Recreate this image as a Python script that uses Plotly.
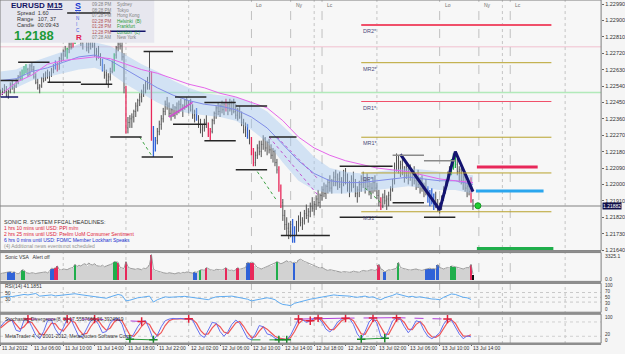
import plotly.graph_objects as go

# ---------------- DATA (EURUSD M15, 11 Jul 2012 02:00 -> 13 Jul 2012 14:15) ----------------
HIGH = [1.2252,1.2253,1.2255,1.2254,1.2252,1.2256,1.2257,1.2255,1.2258,1.2260,
        1.2262,1.2263,1.2265,1.2266,1.2264,1.2266,1.2267,1.2265,1.2261,1.2258,
        1.2255,1.2259,1.2261,1.2262,1.2263,1.2262,1.2264,1.2266,1.2268,1.2267,
        1.2270,1.2272,1.2274,1.2276,1.2275,1.2278,1.2280,1.2281,1.2283,1.2286,
        1.2285,1.2283,1.2282,1.2284,1.2281,1.2279,1.2280,1.2282,1.2278,1.2275,
        1.2276,1.2272,1.2269,1.2266,1.2263,1.2261,1.2264,1.2268,1.2272,1.2276,
        1.2280,1.2281,1.2279,1.2272,1.2254,1.2237,1.2238,1.2239,1.2241,1.2245,
        1.2247,1.2250,1.2252,1.2255,1.2257,1.2259,1.2273,1.2262,1.2232,1.2226,
        1.2231,1.2235,1.2238,1.2242,1.2246,1.2248,1.2245,1.2242,1.2244,1.2243,
        1.2245,1.2246,1.2247,1.2244,1.2247,1.2248,1.2246,1.2247,1.2244,1.2241,
        1.2242,1.2238,1.2236,1.2233,1.2236,1.2238,1.2234,1.2231,1.2236,1.2240,
        1.2243,1.2245,1.2244,1.2246,1.2245,1.2247,1.2245,1.2247,1.2246,1.2247,
        1.2244,1.2242,1.2243,1.2240,1.2236,1.2234,1.2233,1.2230,1.2226,1.2220,
        1.2218,1.2222,1.2224,1.2224,1.2227,1.2226,1.2224,1.2225,1.2222,1.2220,
        1.2219,1.2214,1.2210,1.2200,1.2192,1.2186,1.2182,1.2179,1.2180,1.2181,
        1.2177,1.2180,1.2183,1.2185,1.2182,1.2186,1.2189,1.2187,1.2190,1.2193,
        1.2191,1.2194,1.2197,1.2195,1.2199,1.2201,1.2200,1.2203,1.2205,1.2203,
        1.2207,1.2208,1.2206,1.2207,1.2204,1.2208,1.2209,1.2206,1.2202,1.2205,
        1.2207,1.2203,1.2199,1.2202,1.2205,1.2207,1.2204,1.2206,1.2203,1.2201,
        1.2204,1.2205,1.2201,1.2197,1.2193,1.2195,1.2197,1.2194,1.2196,1.2199,
        1.2203,1.2212,1.2217,1.2216,1.2213,1.2214,1.2210,1.2212,1.2209,1.2211,
        1.2208,1.2210,1.2206,1.2208,1.2204,1.2205,1.2201,1.2203,1.2199,1.2197,
        1.2198,1.2195,1.2196,1.2192,1.2190,1.2194,1.2199,1.2203,1.2207,1.2210,
        1.2214,1.2217,1.2218,1.2214,1.2210,1.2209,1.2206,1.2205,1.2201,1.2202,
        1.2204,1.2192]
LOW = [1.2248,1.2249,1.2250,1.2248,1.2247,1.2250,1.2252,1.2250,1.2253,1.2255,
       1.2257,1.2257,1.2260,1.2261,1.2259,1.2260,1.2262,1.2258,1.2255,1.2252,
       1.2250,1.2253,1.2256,1.2257,1.2258,1.2256,1.2259,1.2261,1.2263,1.2262,
       1.2263,1.2267,1.2268,1.2270,1.2269,1.2272,1.2274,1.2275,1.2277,1.2280,
       1.2279,1.2276,1.2274,1.2278,1.2273,1.2272,1.2274,1.2275,1.2270,1.2268,
       1.2269,1.2265,1.2262,1.2258,1.2255,1.2253,1.2257,1.2261,1.2262,1.2269,
       1.2273,1.2274,1.2268,1.2250,1.2228,1.2228,1.2231,1.2231,1.2234,1.2237,
       1.2240,1.2243,1.2245,1.2248,1.2250,1.2252,1.2252,1.2224,1.2215,1.2218,
       1.2222,1.2227,1.2230,1.2234,1.2238,1.2241,1.2237,1.2235,1.2237,1.2236,
       1.2238,1.2239,1.2240,1.2237,1.2241,1.2242,1.2239,1.2240,1.2236,1.2234,
       1.2235,1.2231,1.2228,1.2226,1.2229,1.2231,1.2226,1.2224,1.2228,1.2233,
       1.2236,1.2238,1.2237,1.2239,1.2238,1.2240,1.2238,1.2240,1.2238,1.2239,
       1.2236,1.2235,1.2236,1.2232,1.2228,1.2226,1.2225,1.2222,1.2216,1.2210,
       1.2210,1.2214,1.2216,1.2215,1.2219,1.2218,1.2216,1.2217,1.2214,1.2212,
       1.2210,1.2206,1.2196,1.2187,1.2180,1.2175,1.2172,1.2170,1.2171,1.2168,
       1.2168,1.2172,1.2174,1.2177,1.2175,1.2178,1.2181,1.2179,1.2182,1.2185,
       1.2183,1.2186,1.2188,1.2187,1.2191,1.2193,1.2192,1.2195,1.2196,1.2195,
       1.2199,1.2199,1.2197,1.2198,1.2195,1.2199,1.2200,1.2196,1.2193,1.2196,
       1.2198,1.2193,1.2190,1.2193,1.2196,1.2198,1.2195,1.2197,1.2194,1.2192,
       1.2195,1.2196,1.2192,1.2188,1.2186,1.2187,1.2189,1.2186,1.2188,1.2191,
       1.2196,1.2200,1.2207,1.2206,1.2204,1.2205,1.2201,1.2203,1.2200,1.2202,
       1.2199,1.2200,1.2197,1.2198,1.2195,1.2196,1.2193,1.2194,1.2190,1.2188,
       1.2189,1.2186,1.2187,1.2185,1.2184,1.2186,1.2191,1.2195,1.2199,1.2202,
       1.2205,1.2208,1.2209,1.2205,1.2201,1.2200,1.2197,1.2196,1.2193,1.2194,
       1.2190,1.2186]
CLOSE = [1.2250,1.2252,1.2251,1.2249,1.2251,1.2255,1.2253,1.2254,1.2257,1.2259,
         1.2258,1.2262,1.2264,1.2263,1.2260,1.2265,1.2263,1.2259,1.2256,1.2253,
         1.2254,1.2258,1.2257,1.2261,1.2259,1.2260,1.2263,1.2265,1.2264,1.2263,
         1.2269,1.2268,1.2273,1.2271,1.2274,1.2277,1.2275,1.2280,1.2282,1.2284,
         1.2280,1.2278,1.2281,1.2279,1.2275,1.2277,1.2278,1.2276,1.2271,1.2273,
         1.2270,1.2267,1.2264,1.2260,1.2257,1.2259,1.2262,1.2267,1.2271,1.2275,
         1.2277,1.2276,1.2270,1.2253,1.2231,1.2234,1.2236,1.2237,1.2240,1.2243,
         1.2246,1.2248,1.2251,1.2253,1.2256,1.2255,1.2254,1.2228,1.2220,1.2224,
         1.2229,1.2233,1.2236,1.2240,1.2244,1.2243,1.2239,1.2241,1.2238,1.2242,
         1.2240,1.2244,1.2241,1.2243,1.2246,1.2243,1.2245,1.2241,1.2238,1.2240,
         1.2236,1.2233,1.2230,1.2231,1.2234,1.2233,1.2227,1.2229,1.2235,1.2239,
         1.2242,1.2240,1.2243,1.2241,1.2244,1.2242,1.2244,1.2241,1.2245,1.2240,
         1.2238,1.2241,1.2237,1.2234,1.2230,1.2233,1.2227,1.2224,1.2218,1.2212,
         1.2216,1.2220,1.2218,1.2222,1.2225,1.2220,1.2223,1.2219,1.2216,1.2218,
         1.2212,1.2208,1.2198,1.2190,1.2183,1.2178,1.2176,1.2174,1.2178,1.2170,
         1.2175,1.2178,1.2181,1.2179,1.2180,1.2184,1.2183,1.2185,1.2188,1.2187,
         1.2189,1.2192,1.2190,1.2194,1.2197,1.2195,1.2199,1.2201,1.2198,1.2202,
         1.2204,1.2201,1.2203,1.2200,1.2202,1.2205,1.2202,1.2198,1.2200,1.2203,
         1.2199,1.2195,1.2197,1.2200,1.2203,1.2201,1.2202,1.2199,1.2196,1.2198,
         1.2201,1.2198,1.2194,1.2190,1.2188,1.2193,1.2191,1.2192,1.2194,1.2197,
         1.2202,1.2210,1.2213,1.2209,1.2211,1.2207,1.2208,1.2205,1.2207,1.2204,
         1.2206,1.2202,1.2204,1.2200,1.2202,1.2198,1.2199,1.2196,1.2192,1.2194,
         1.2191,1.2193,1.2189,1.2187,1.2188,1.2193,1.2197,1.2201,1.2205,1.2208,
         1.2212,1.2215,1.2211,1.2207,1.2208,1.2202,1.2204,1.2198,1.2199,1.2196,
         1.2191,1.21882]
BAR_RED = [29, 37, 64, 77, 106, 107, 115, 128, 129, 142, 143, 194, 240]
BAR_GREEN = [11, 12, 13, 34, 38, 39, 58, 230, 231, 232]
BAR_BLUE = [28, 52, 78, 79, 100, 126, 149, 150, 218, 219, 220, 221]

MA_BARS = [0, 8, 16, 24, 32, 40, 48, 56, 64, 72, 80, 88, 96, 104, 112, 120, 128, 136,
           144, 152, 160, 168, 176, 184, 192, 200, 208, 216, 224, 232, 241]
MA_SLOW = [1.2249,1.2256,1.2260,1.2266,1.2268,1.2269,1.2270,1.2269,1.2266,1.2263,1.2261,1.2258,1.2255,1.2253,1.2250,1.2248,
           1.2245,1.2242,1.2235,1.2226,1.2220,1.2216,1.2213,1.2211,1.2209,1.2208,1.2207,1.2205,1.2203,1.2202,1.2201]
MA_FAST = [1.2257,1.2258,1.2262,1.2264,1.2267,1.2270,1.2271,1.2268,1.2263,1.2258,1.2253,1.2249,1.2246,1.2244,1.2243,1.2241,
           1.2237,1.2231,1.2222,1.2213,1.2206,1.2202,1.2201,1.2201,1.2202,1.2203,1.2204,1.2203,1.2202,1.2202,1.2200]
BAND_UP = [1.2262,1.2263,1.2267,1.2270,1.2273,1.2277,1.2278,1.2276,1.2271,1.2266,1.2262,1.2257,1.2253,1.2250,1.2249,1.2248,
           1.2245,1.2240,1.2232,1.2224,1.2215,1.2209,1.2207,1.2206,1.2207,1.2208,1.2209,1.2208,1.2207,1.2206,1.2205]
BAND_DN = [1.2251,1.2253,1.2257,1.2259,1.2261,1.2263,1.2264,1.2261,1.2255,1.2250,1.2245,1.2241,1.2239,1.2238,1.2237,1.2235,
           1.2230,1.2223,1.2212,1.2202,1.2197,1.2195,1.2195,1.2196,1.2197,1.2198,1.2199,1.2198,1.2197,1.2197,1.2195]

# support / resistance segments: (start bar, end bar, price)
SR_BLACK = [(0, 9, 1.2257), (9, 25, 1.2267), (24, 41, 1.2256), (41, 57, 1.2255), (34, 56, 1.2294),
            (56, 72, 1.2226), (73, 88, 1.2273), (72, 88, 1.2215), (89, 105, 1.2248), (88, 105, 1.2233),
            (104, 120, 1.2245), (104, 120, 1.2224), (120, 136, 1.2243), (120, 136, 1.2208),
            (137, 151, 1.2226), (143, 168, 1.2172), (173, 200, 1.2210), (173, 200, 1.2182),
            (200, 216, 1.2190), (216, 232, 1.2182)]
SR_GRAY = [(200, 216, 1.2216), (216, 232, 1.2213)]
SR_NAVY = [(0, 9, 1.2248), (56, 74, 1.2284)]
ZZ_BARS = [204, 224, 232, 241]
ZZ_PRICES = [1.22165, 1.21860, 1.22180, 1.21960]
DIV_GREEN = [((71, 1.2226), (77, 1.2216)), ((131, 1.2207), (141, 1.2191)), ((186, 1.2198), (194, 1.2190))]
DOT_PURPLE = [((137, 1.2226), (162, 1.2194)), ((141, 1.2226), (162, 1.2203))]
TREND_PINK = [((86, 1.2237), (98, 1.2245))]

PIVOT_NAMES = ["DR2*", "MR2*", "DR1*", "MR1*", "DP*", "MS1*"]
PIVOT_PRICES = [1.22875, 1.22668, 1.22455, 1.22259, 1.22063, 1.21850]
PIVOT_START, PIVOT_END = 184, 281
LEVEL_RED = (243, 274, 1.22095)
LEVEL_BLUE = (242.5, 277, 1.21964)
LEVEL_GREEN = (243, 282, 1.21648)
SIGNAL_DOT = (243.5, 1.21883)
BID = 1.21882
FAINT_PINK = [1.22755]
FAINT_GREEN = [1.22504]
SESSION_BARS = [128, 148, 164, 224, 244, 260]
SESSION_NAMES = ["Lo", "Ny", "Lc", "Lo", "Ny", "Lc"]
GRID_BARS = [32, 64, 96, 160, 192, 256, 288]
PRICE_TICKS = [1.22990, 1.22900, 1.22810, 1.22720, 1.22630, 1.22540, 1.22450, 1.22360,
               1.22270, 1.22180, 1.22090, 1.22000, 1.21910, 1.21820, 1.21730, 1.21640]
TIME_BARS = [0, 16, 32, 48, 64, 80, 96, 112, 128, 144, 160, 176, 192, 208, 224, 240]
TIME_LABELS = ["11 Jul 2012", "11 Jul 06:00", "11 Jul 10:00", "11 Jul 14:00", "11 Jul 18:00",
               "11 Jul 22:00", "12 Jul 02:00", "12 Jul 06:00", "12 Jul 10:00", "12 Jul 14:00",
               "12 Jul 18:00", "12 Jul 22:00", "13 Jul 02:00", "13 Jul 06:00", "13 Jul 10:00",
               "13 Jul 14:00"]

VOLUME = [780,820,900,950,1000,1050,950,1000,820,760,
          900,1280,1250,900,850,800,900,820,780,850,
          900,870,950,1000,880,1100,1500,1450,1550,1800,
          1300,1250,1400,1350,1300,1450,1500,1600,2050,1700,
          1900,1800,2000,2100,1900,2200,2000,1950,2100,1850,
          1800,1750,1900,1700,1800,1950,2000,2100,2400,2350,
          2300,1600,1500,1450,2400,1700,1500,1450,1400,1350,
          1450,1400,1300,1500,1450,1600,2000,3325,1400,1200,
          1100,1050,950,900,850,800,900,850,800,750,
          850,900,800,950,900,1000,950,900,850,1000,
          950,1100,1280,1300,1200,1600,1400,1300,1250,1200,
          1350,1300,1200,1250,1400,1600,1300,1200,1250,1150,
          1300,1600,1350,1400,1500,1600,2300,2200,2300,2250,
          1900,1600,1500,1400,1500,1600,1700,1800,1900,2000,
          2200,2400,2300,2100,2200,2400,2500,2300,2400,2200,
          2300,2200,2600,2700,2500,2400,2300,2200,2000,1900,
          1800,1700,1600,1500,1600,1400,1300,1200,1300,1250,
          1200,1100,1150,1000,950,1050,1000,900,950,1000,
          1100,1050,1000,950,1100,1200,1150,1100,1200,1300,
          1250,1200,1300,2050,1400,1300,1000,1200,1300,1250,
          1300,1400,1500,2300,1600,1500,1400,1350,1300,1250,
          1300,1350,1400,1300,1250,1200,1300,1400,1450,1500,
          1400,1450,1350,2000,1600,1500,1400,1500,1600,1500,
          1800,1750,1700,1600,1500,1450,1400,1500,1600,1550,
          2050,700]
VOL_RED = [28, 29, 60, 64, 77, 105, 115, 121, 128, 129, 193, 240]
VOL_GREEN = [11, 12, 38, 58, 59, 102, 141, 203, 230, 231, 232]
VOL_BLUE = [4, 5, 6, 7, 26, 27, 99, 100, 126, 127, 150, 196, 217, 218, 219, 220, 221, 223]

OSC_BARS = list(range(0, 241, 2))
RSI = [50,52,55,53,57,58,62,60,63,66, 55,57,59,60,56,58,60,62,64,65,
       62,60,58,57,55,52,48,46,52,58, 62,58,35,38,44,48,50,53,55,30,
       40,46,52,50,52,51,53,54,52,50, 47,44,45,40,47,52,53,55,54,55,
       52,50,45,42,35,38,43,46,48,45, 40,28,20,18,15,25,30,33,38,42,
       45,48,52,55,57,60,58,57,58,55, 52,50,53,55,50,52,45,40,48,52,
       58,65,60,55,52,54,50,52,48,45, 43,42,40,50,58,64,62,55,50,48,
       41.1851]
STO_K = [60,80,93,85,45,40,88,92,60,25, 10,40,85,88,50,25,55,92,90,55,
         18,20,50,85,92,70,35,40,75,92, 95,70,20,8,30,60,82,85,50,5,
         25,60,85,92,95,93,95,92,94,88, 55,25,15,45,78,75,40,20,40,70,
         88,75,40,12,5,30,65,60,30,25, 12,5,8,5,25,60,92,90,78,85,
         95,97,80,50,38,55,80,92,96,95, 70,30,8,40,80,97,75,20,12,45,
         85,98,90,60,35,55,85,80,45,20, 10,20,35,70,92,88,60,30,10,22,
         17.5557666]
STO_D = [55,68,82,88,70,50,60,80,78,52, 30,25,48,75,72,50,42,62,85,78,
         48,28,32,60,82,85,62,45,55,80, 92,85,55,25,20,38,62,78,70,40,
         22,35,65,85,92,94,94,93,93,90, 75,45,28,30,55,72,60,38,32,52,
         76,82,62,35,15,18,42,60,50,35, 20,12,8,7,15,40,72,88,85,82,
         88,95,88,68,48,48,65,85,93,95, 85,55,30,28,55,85,88,60,30,28,
         60,88,93,78,50,48,70,82,65,35, 18,16,26,50,78,88,75,45,22,20,
         26.3924919]
STO_PEAKS = [14, 34, 48, 72, 96, 152, 158, 162, 176, 190, 202, 228]
STO_TROUGHS = [66, 78, 142, 146, 184, 196]
STO_BEAR = [(14, 48, "dash"), (48, 72, "dash"), (152, 176, "solid"), (176, 190, "dash"),
            (190, 202, "solid"), (202, 228, "dash")]
STO_BULL = [(66, 78, "solid"), (128, 142, "dash"), (142, 146, "solid"), (184, 196, "solid")]

# ---------------- FIGURE ----------------
W, H = 625, 354
FONT = "Liberation Sans, Arial, sans-serif"
XR = [-0.25, -0.25 + 604 / 1.97]
XD = [0, 604 / W]


def py(y):
    return 1 - y / H


def px(x):
    return x / W


fig = go.Figure()
OPEN = [CLOSE[0]] + CLOSE[:-1]
N = len(CLOSE)
colored = set(BAR_RED) | set(BAR_GREEN) | set(BAR_BLUE)

# band + MAs
fig.add_trace(go.Scatter(x=MA_BARS, y=BAND_UP, mode="lines", line=dict(width=0, color="rgba(0,0,0,0)"),
                         hoverinfo="skip"))
fig.add_trace(go.Scatter(x=MA_BARS, y=BAND_DN, mode="lines", line=dict(width=0, color="rgba(0,0,0,0)"),
                         fill="tonexty", fillcolor="rgba(165,200,240,0.45)", hoverinfo="skip"))


def ohlc(idx, color, width):
    return go.Ohlc(x=idx, open=[OPEN[i] for i in idx], high=[HIGH[i] for i in idx],
                   low=[LOW[i] for i in idx], close=[CLOSE[i] for i in idx], tickwidth=0.25,
                   increasing=dict(line=dict(color=color, width=width)),
                   decreasing=dict(line=dict(color=color, width=width)), hoverinfo="skip")


fig.add_trace(ohlc([i for i in range(N) if i not in colored], "#505050", 1))
fig.add_trace(ohlc(BAR_RED, "#e8285a", 1.3))
fig.add_trace(ohlc(BAR_GREEN, "#1fae4b", 1.3))
fig.add_trace(ohlc(BAR_BLUE, "#2f62d8", 1.3))

fig.add_trace(go.Scatter(x=MA_BARS, y=MA_FAST, mode="lines", line=dict(color="#7f8ce6", width=1)))
fig.add_trace(go.Scatter(x=MA_BARS, y=MA_SLOW, mode="lines", line=dict(color="#e466ea", width=1)))

for (a, b) in DIV_GREEN:
    fig.add_trace(go.Scatter(x=[a[0], b[0]], y=[a[1], b[1]], mode="lines",
                             line=dict(color="#3aa040", width=1, dash="dot")))
for (a, b) in DOT_PURPLE:
    fig.add_trace(go.Scatter(x=[a[0], b[0]], y=[a[1], b[1]], mode="lines",
                             line=dict(color="#c050d0", width=1, dash="dot")))
for (a, b) in TREND_PINK:
    fig.add_trace(go.Scatter(x=[a[0], b[0]], y=[a[1], b[1]], mode="lines",
                             line=dict(color="#d050d0", width=1.5)))

fig.add_trace(go.Scatter(x=ZZ_BARS, y=ZZ_PRICES, mode="lines", line=dict(color="#141470", width=3)))
fig.add_trace(go.Scatter(x=[SIGNAL_DOT[0]], y=[SIGNAL_DOT[1]], mode="markers",
                         marker=dict(color="#22cc33", size=6, line=dict(color="#119922", width=1))))

# volume panel
fig.add_trace(go.Bar(x=list(range(N)), y=VOLUME, marker=dict(color="#d2d2d2", line=dict(width=0)),
                     width=0.6, xaxis="x2", yaxis="y2"))
fig.add_trace(go.Scatter(x=list(range(N)), y=VOLUME, mode="lines", line=dict(color="#8a8a8a", width=0.8),
                         xaxis="x2", yaxis="y2"))
for idx, col in [(VOL_RED, "#e8285a"), (VOL_GREEN, "#1fae4b"), (VOL_BLUE, "#2f62d8"), ([N - 1], "#101010")]:
    fig.add_trace(go.Bar(x=idx, y=[VOLUME[i] for i in idx], marker=dict(color=col, line=dict(width=0)),
                         width=0.9, xaxis="x2", yaxis="y2"))

# RSI panel
fig.add_trace(go.Scatter(x=OSC_BARS, y=RSI, mode="lines", line=dict(color="#5eaaf0", width=1),
                         xaxis="x3", yaxis="y3"))

# Stochastic panel
for (a, b, d) in STO_BEAR:
    fig.add_trace(go.Scatter(x=[a, b], y=[STO_K[a // 2], STO_K[b // 2]], mode="lines",
                             line=dict(color="#b040d8", width=1, dash=d), xaxis="x4", yaxis="y4"))
for (a, b, d) in STO_BULL:
    fig.add_trace(go.Scatter(x=[a, b], y=[STO_K[a // 2], STO_K[b // 2]], mode="lines",
                             line=dict(color="#2c9a3c", width=1, dash=d), xaxis="x4", yaxis="y4"))
fig.add_trace(go.Scatter(x=OSC_BARS, y=STO_D, mode="lines", line=dict(color="#f05656", width=1.2),
                         xaxis="x4", yaxis="y4"))
fig.add_trace(go.Scatter(x=OSC_BARS, y=STO_K, mode="lines", line=dict(color="#6470f0", width=1),
                         xaxis="x4", yaxis="y4"))
fig.add_trace(go.Scatter(x=STO_PEAKS, y=[STO_K[b // 2] for b in STO_PEAKS], mode="markers",
                         marker=dict(symbol="cross-thin", size=6, line=dict(color="#e0203a", width=1.5)),
                         xaxis="x4", yaxis="y4"))
fig.add_trace(go.Scatter(x=STO_TROUGHS, y=[STO_K[b // 2] for b in STO_TROUGHS], mode="markers",
                         marker=dict(symbol="cross-thin", size=6, line=dict(color="#1a8a2a", width=1.5)),
                         xaxis="x4", yaxis="y4"))

# ---------------- SHAPES ----------------
shapes = []
for p in FAINT_PINK:
    shapes.append(dict(type="line", xref="paper", yref="y", x0=0, x1=XD[1], y0=p, y1=p,
                       line=dict(color="rgba(240,170,190,0.7)", width=1), layer="below"))
for p in FAINT_GREEN:
    shapes.append(dict(type="line", xref="paper", yref="y", x0=0, x1=XD[1], y0=p, y1=p,
                       line=dict(color="rgba(160,230,170,0.8)", width=1.5), layer="below"))
for b in GRID_BARS:
    shapes.append(dict(type="line", xref="x", yref="paper", x0=b, x1=b, y0=py(346), y1=1,
                       line=dict(color="#c4c4c4", width=1, dash="dot"), layer="below"))
for b in SESSION_BARS:
    shapes.append(dict(type="line", xref="x", yref="paper", x0=b, x1=b, y0=py(346), y1=1,
                       line=dict(color="#c0c0c0", width=1, dash="dash"), layer="below"))
for lv in [70, 50, 30]:
    shapes.append(dict(type="line", xref="paper", yref="y3", x0=0, x1=XD[1], y0=lv, y1=lv,
                       line=dict(color="#c8c8c8", width=1, dash="dot"), layer="below"))
for lv in [80, 20]:
    shapes.append(dict(type="line", xref="paper", yref="y4", x0=0, x1=XD[1], y0=lv, y1=lv,
                       line=dict(color="#d0d0d0", width=1, dash="dot"), layer="below"))
for name, p in zip(PIVOT_NAMES, PIVOT_PRICES):
    red = name.startswith("DR")
    shapes.append(dict(type="line", xref="x", yref="y", x0=PIVOT_START, x1=PIVOT_END, y0=p, y1=p,
                       line=dict(color="#f0506a" if red else "#b8a22c", width=2 if name == "DR2*" else 1)))
for lv, col in [(LEVEL_RED, "#e8285a"), (LEVEL_BLUE, "#2aa6ee"), (LEVEL_GREEN, "#1fae4b")]:
    shapes.append(dict(type="line", xref="x", yref="y", x0=lv[0], x1=lv[1], y0=lv[2], y1=lv[2],
                       line=dict(color=col, width=3)))
shapes.append(dict(type="line", xref="paper", yref="y", x0=0, x1=XD[1], y0=BID, y1=BID,
                   line=dict(color="#a8a8a8", width=1.5), layer="below"))
shapes.append(dict(type="rect", xref="paper", yref="paper", x0=0, x1=px(155), y0=py(43), y1=1,
                   fillcolor="#e7e7ef", line=dict(width=0)))
for (a, b, p) in SR_BLACK:
    shapes.append(dict(type="line", xref="x", yref="y", x0=a, x1=b, y0=p, y1=p,
                       line=dict(color="#262626", width=1.5)))
for (a, b, p) in SR_GRAY:
    shapes.append(dict(type="line", xref="x", yref="y", x0=a, x1=b, y0=p, y1=p,
                       line=dict(color="#8a8a8a", width=1.5)))
for (a, b, p) in SR_NAVY:
    shapes.append(dict(type="line", xref="x", yref="y", x0=a, x1=b, y0=p, y1=p,
                       line=dict(color="#14146a", width=1.5)))
for (t, b) in [(0, 252), (254, 283), (285, 314), (316, 345)]:
    shapes.append(dict(type="rect", xref="paper", yref="paper", x0=0, x1=XD[1], y0=py(b), y1=py(t),
                       line=dict(color="#7c7c7c", width=1), fillcolor="rgba(0,0,0,0)"))
for y in [253, 284, 315, 346]:
    shapes.append(dict(type="line", xref="paper", yref="paper", x0=0, x1=XD[1], y0=py(y), y1=py(y),
                       line=dict(color="#8e8e8e", width=2)))

# ---------------- ANNOTATIONS ----------------
ann = []


def text(x, y, s, size=6, color="#333333", anchor="left", yref="paper", xref="paper", bg=None, font=FONT):
    d = dict(x=x if xref != "paper" else px(x), y=y if yref != "paper" else py(y), xref=xref, yref=yref,
             text=s, showarrow=False, xanchor=anchor, yanchor="middle",
             font=dict(size=size, color=color, family=font))
    if bg:
        d["bgcolor"] = bg
        d["borderpad"] = 0
    ann.append(d)


text(9, 6, "<b>EURUSD</b>", 8, "#141464")
text(45, 6, "<b><u>M15</u></b>", 8, "#141464")
text(73, 6, "<b><u>S</u></b>", 9, "#1a3ad0")
for yy, ch in zip([13, 19, 25, 31], ["O", "N", "I", "C"]):
    text(74.5, yy, ch, 4.5, "#3a5ae0")
text(74, 37.5, "<b>R</b>", 8, "#e02050")
text(15, 13.5, "Spread  1.60", 5.5, "#333333")
text(15, 19.5, "Range   107, 37", 5.5, "#333333")
text(15, 25, "Candle  00:09:43", 5.5, "#333333")
text(12, 35.5, "<b>1.2188</b>", 13, "#1e9a38")
times = ["09:28 PM", "08:28 PM", "07:28 PM", "02:28 PM", "01:28 PM", "12:28 PM", "07:28 AM"]
cities = ["Sydney", "Tokyo", "Hong Kong", "Helsinki  (B)", "Frankfurt", "London  (L)", "New York"]
tcol = ["#808080", "#808080", "#808080", "#b05050", "#b05050", "#b05050", "#808080"]
ccol = ["#808080", "#808080", "#808080", "#1e9a38", "#1e9a38", "#1e9a38", "#808080"]
for k, yy in enumerate([5, 10.5, 16, 21.5, 27, 32.5, 38]):
    text(90, yy, times[k], 4.5, tcol[k])
    text(116, yy, cities[k], 4.5, ccol[k])

for b, nm in zip(SESSION_BARS, SESSION_NAMES):
    ann.append(dict(x=b + 1.5, y=py(5), xref="x", yref="paper", text=nm, showarrow=False, xanchor="left",
                    yanchor="middle", font=dict(size=5, color="#707070", family=FONT)))
for name, p in zip(PIVOT_NAMES, PIVOT_PRICES):
    ann.append(dict(x=PIVOT_START, y=p, xref="x", yref="y", text=name, showarrow=False, xanchor="left",
                    yanchor="top", yshift=-1, font=dict(size=5.5, color="#4a4a7a", family=FONT)))
text(2, 223, "SONIC R. SYSTEM FFCAL HEADLINES:", 5.5, "#333333")
text(2, 229, "1 hrs 10 mins until USD: PPI m/m", 5, "#e0203a")
text(2, 235, "2 hrs 25 mins until USD: Prelim UoM Consumer Sentiment", 5, "#e0203a")
text(2, 241, "6 hrs 0 mins until USD: FOMC Member Lockhart Speaks", 5, "#2030d0")
text(2, 247, "(4) Additional news events not scheduled", 5, "#909090")
text(3, 258, "Sonic VSA   Alert off", 5, "#333333")
text(3, 288, "RSI(14) 41.1851", 5, "#333333")
text(3, 295, "50", 5, "#333333")
text(3, 301, "30", 5, "#333333")
text(3, 321, "Stochastic_Divergence(8, 3) 17.5557666 26.3924919", 5, "#333333")
text(3, 338, "MetaTrader 4, © 2001-2012, MetaQuotes Software Corp.", 5, "#333333")
text(606, 257, "3325.1", 5, "#333333")
text(606, 281, "0.0", 5, "#333333")
for v, yy in [(100, 287), (70, 293), (50, 299), (30, 305), (0, 311)]:
    text(606, yy, str(v), 4.5, "#333333")
for v, yy in [(100, 319), (20, 336.5), (0, 342)]:
    text(606, yy, str(v), 4.5, "#333333")
ann.append(dict(x=px(605), y=BID, xref="paper", yref="y", text="1.21882", showarrow=False, xanchor="left",
                yanchor="middle", bgcolor="#10104a", borderpad=0, font=dict(size=5, color="white", family=FONT)))
for b, lab in zip(TIME_BARS, TIME_LABELS):
    ann.append(dict(x=b, y=py(349.5), xref="x4", yref="paper", text=lab, showarrow=False, xanchor="left",
                    yanchor="middle", font=dict(size=5, color="#333333", family=FONT)))

axis_common = dict(showgrid=False, zeroline=False, showticklabels=False, range=XR, domain=XD)
fig.update_layout(
    width=W, height=H, margin=dict(l=0, r=0, t=0, b=0), showlegend=False,
    paper_bgcolor="#f5f5f5", plot_bgcolor="#f7f7f7", barmode="overlay", bargap=0,
    xaxis=dict(**axis_common, anchor="y", rangeslider=dict(visible=False)),
    xaxis2=dict(**axis_common, anchor="y2", matches="x"),
    xaxis3=dict(**axis_common, anchor="y3", matches="x"),
    xaxis4=dict(**axis_common, anchor="y4", matches="x", ticks="outside", ticklen=2,
                tickvals=TIME_BARS, tickcolor="#666666"),
    yaxis=dict(domain=[py(252), 1], range=[1.21637, 1.23012], side="right", anchor="x",
               tickvals=PRICE_TICKS, ticktext=["%.5f" % v for v in PRICE_TICKS], ticks="outside",
               ticklen=2, tickcolor="#666666", tickfont=dict(size=5.5, color="#333333", family=FONT),
               showgrid=False, zeroline=False),
    yaxis2=dict(domain=[py(282), py(254)], range=[-133, 3591], anchor="x2", showticklabels=False,
                showgrid=False, zeroline=False),
    yaxis3=dict(domain=[py(314), py(284)], range=[-12.5, 112.5], anchor="x3", showticklabels=False,
                showgrid=False, zeroline=False),
    yaxis4=dict(domain=[py(345), py(316)], range=[-8.3, 112.5], anchor="x4", showticklabels=False,
                showgrid=False, zeroline=False),
    shapes=shapes, annotations=ann,
)
fig.write_html("out.html")
